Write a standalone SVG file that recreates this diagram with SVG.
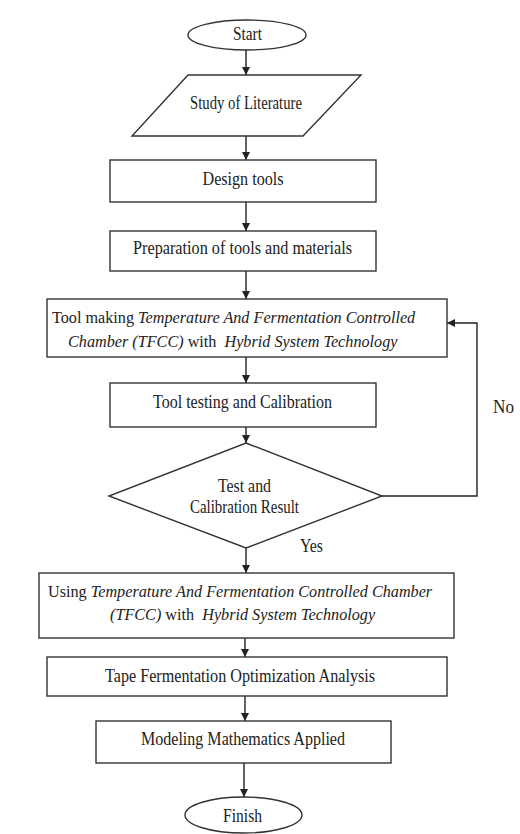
<svg xmlns="http://www.w3.org/2000/svg" width="520" height="834" viewBox="0 0 520 834">
<defs>
<marker id="ah" markerUnits="userSpaceOnUse" markerWidth="9" markerHeight="9" refX="8" refY="4" orient="auto">
<path d="M0,0 L8,4 L0,8 z" fill="#222"/>
</marker>
<style>
.s{fill:#fff;stroke:#333;stroke-width:1.4}
.c{fill:none;stroke:#222;stroke-width:1.4}
text{font-family:"Liberation Serif","Times New Roman",serif;font-size:18px;fill:#222}
.m{text-anchor:middle}
.i{font-style:italic}
.n{font-size:16.2px}
</style>
</defs>
<rect width="520" height="834" fill="#fff"/>
<g id="connectors">
<line class="c" x1="246" y1="50" x2="246" y2="75" marker-end="url(#ah)"/>
<line class="c" x1="246" y1="136" x2="246" y2="160" marker-end="url(#ah)"/>
<line class="c" x1="246" y1="202" x2="246" y2="231" marker-end="url(#ah)"/>
<line class="c" x1="246" y1="271" x2="246" y2="299" marker-end="url(#ah)"/>
<line class="c" x1="246" y1="357" x2="246" y2="383" marker-end="url(#ah)"/>
<line class="c" x1="246" y1="427" x2="246" y2="443" marker-end="url(#ah)"/>
<line class="c" x1="246" y1="548" x2="246" y2="573" marker-end="url(#ah)"/>
<line class="c" x1="245" y1="638" x2="245" y2="657" marker-end="url(#ah)"/>
<line class="c" x1="245" y1="696" x2="245" y2="721" marker-end="url(#ah)"/>
<line class="c" x1="244" y1="763" x2="244" y2="797" marker-end="url(#ah)"/>
<polyline class="c" points="382,496 477,496 477,323 447,323" marker-end="url(#ah)"/>
<text x="300" y="552" textLength="23" lengthAdjust="spacingAndGlyphs">Yes</text>
<text x="493" y="413" textLength="21" lengthAdjust="spacingAndGlyphs">No</text>
</g>
<g id="start">
<ellipse class="s" cx="247" cy="35" rx="59" ry="15"/>
<text class="m" x="247.5" y="40" textLength="29" lengthAdjust="spacingAndGlyphs">Start</text>
</g>
<g id="literature">
<polygon class="s" points="188,75 361,75 303,136 132,136"/>
<text class="m" x="246" y="109" textLength="112" lengthAdjust="spacingAndGlyphs">Study of Literature</text>
</g>
<g id="design">
<rect class="s" x="110" y="160" width="266" height="42"/>
<text class="m" x="243" y="185" textLength="81" lengthAdjust="spacingAndGlyphs">Design tools</text>
</g>
<g id="preparation">
<rect class="s" x="110" y="231" width="266" height="40"/>
<text class="m" x="242.5" y="254" textLength="219" lengthAdjust="spacingAndGlyphs">Preparation of tools and materials</text>
</g>
<g id="toolmaking">
<rect class="s" x="47" y="299" width="400" height="58"/>
<text class="n" x="52" y="323">Tool making <tspan class="i">Temperature And Fermentation Controlled</tspan></text>
<text class="n" x="68" y="347" xml:space="preserve"><tspan class="i">Chamber (TFCC)</tspan> with  <tspan class="i">Hybrid System Technology</tspan></text>
</g>
<g id="testing">
<rect class="s" x="110" y="383" width="266" height="44"/>
<text class="m" x="242.5" y="408" textLength="179" lengthAdjust="spacingAndGlyphs">Tool testing and Calibration</text>
</g>
<g id="decision">
<polygon class="s" points="246,443 382,496 246,548 109,496"/>
<text class="m" x="244.5" y="492" textLength="53" lengthAdjust="spacingAndGlyphs">Test and</text>
<text class="m" x="244.5" y="513" textLength="109" lengthAdjust="spacingAndGlyphs">Calibration Result</text>
</g>
<g id="using">
<rect class="s" x="39" y="573" width="415" height="65"/>
<text class="n" x="48" y="597">Using <tspan class="i">Temperature And Fermentation Controlled Chamber</tspan></text>
<text class="n" x="110" y="620" xml:space="preserve"><tspan class="i">(TFCC)</tspan> with  <tspan class="i">Hybrid System Technology</tspan></text>
</g>
<g id="tape">
<rect class="s" x="47" y="657" width="400" height="39"/>
<text class="m" x="240" y="682" textLength="270" lengthAdjust="spacingAndGlyphs">Tape Fermentation Optimization Analysis</text>
</g>
<g id="modeling">
<rect class="s" x="96" y="721" width="295" height="42"/>
<text class="m" x="243" y="745" textLength="204" lengthAdjust="spacingAndGlyphs">Modeling Mathematics Applied</text>
</g>
<g id="finish">
<ellipse class="s" cx="243.5" cy="815" rx="58.5" ry="18"/>
<text class="m" x="242.5" y="822" textLength="39" lengthAdjust="spacingAndGlyphs">Finish</text>
</g>
</svg>
